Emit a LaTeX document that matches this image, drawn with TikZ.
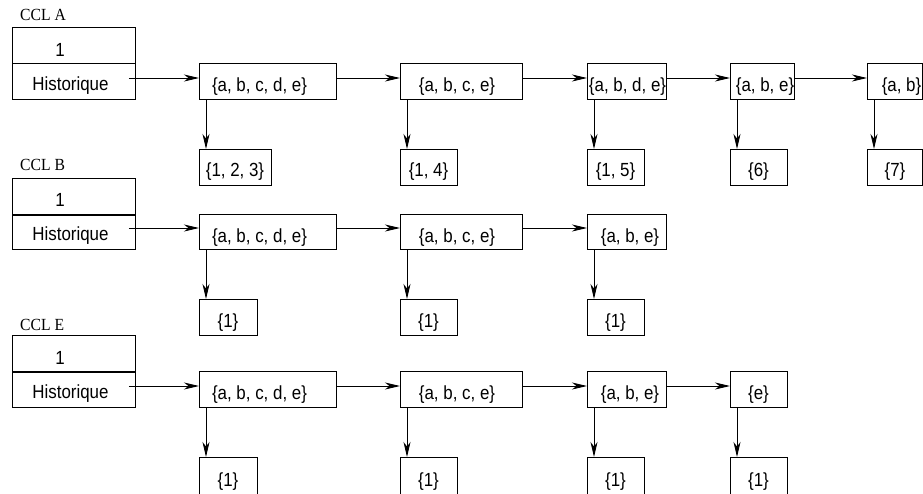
\documentclass[tikz,border=0pt]{standalone}
\usepackage{fontspec}
\setmainfont{Liberation Sans}[FakeStretch=0.89]
\newfontfamily\cclfont{Liberation Serif}[FakeStretch=0.92]
\usetikzlibrary{arrows.meta,calc}
\begin{document}
\begin{tikzpicture}[x=1pt,y=-1pt,
  cell/.style={draw, line width=0.9pt, inner sep=0pt, anchor=north west},
  txt/.style={inner sep=0pt, font=\fontsize{19}{22}\selectfont},
  ccl/.style={inner sep=0pt, anchor=west, font=\cclfont\fontsize{17}{19}\selectfont},
  divider/.style={line width=2.2pt},
  arr/.style={line width=0.9pt, -{Stealth[length=15pt,width=7pt,inset=4.5pt]}}]
\useasboundingbox (0,0) rectangle (923,493);

% ---------------- Row A ----------------
\node[ccl] (lA) at (20,15) {CCL A};
\node[cell, minimum width=123pt, minimum height=36pt] (nA) at (12,27) {};
\node[cell, minimum width=123pt, minimum height=36pt] (hA) at (12,63) {};
\node[txt] (tnA) at (60,50) {1};
\node[txt] (thA) at (70.5,86) {Historique};

\node[cell, minimum width=137pt, minimum height=36pt] (a1) at (199,63) {};
\node[cell, minimum width=122pt, minimum height=36pt] (a2) at (400,63) {};
\node[cell, minimum width=79pt,  minimum height=36pt] (a3) at (587,63) {};
\node[cell, minimum width=64pt,  minimum height=36pt] (a4) at (730,63) {};
\node[cell, minimum width=55pt,  minimum height=36pt] (a5) at (867,63) {};
\node[txt] (ta1) at (259.5,87) {\{a, b, c, d, e\}};
\node[txt] (ta2) at (457,87) {\{a, b, c, e\}};
\node[txt] (ta3) at (627.5,87) {\{a, b, d, e\}};
\node[txt] (ta4) at (765,87) {\{a, b, e\}};
\node[txt] (ta5) at (901.5,87) {\{a, b\}};

\node[cell, minimum width=72pt, minimum height=36pt] (b1) at (199,149) {};
\node[cell, minimum width=57pt, minimum height=36pt] (b2) at (400,149) {};
\node[cell, minimum width=57pt, minimum height=36pt] (b3) at (587,149) {};
\node[cell, minimum width=57pt, minimum height=36pt] (b4) at (730,149) {};
\node[cell, minimum width=55pt, minimum height=36pt] (b5) at (867,149) {};
\node[txt] (tb1) at (235,172) {\{1, 2, 3\}};
\node[txt] (tb2) at (428.5,172) {\{1, 4\}};
\node[txt] (tb3) at (615.5,172) {\{1, 5\}};
\node[txt] (tb4) at (758.5,172) {\{6\}};
\node[txt] (tb5) at (895,172) {\{7\}};

\draw[arr] ($(hA.north east)+(-7,15)$) -- ($(a1.north west)+(0,15)$);
\draw[arr] ($(a1.north east)+(0,15)$) -- ($(a2.north west)+(0,15)$);
\draw[arr] ($(a2.north east)+(0,15)$) -- ($(a3.north west)+(0,15)$);
\draw[arr] ($(a3.north east)+(0,15)$) -- ($(a4.north west)+(0,15)$);
\draw[arr] ($(a4.north east)+(0,15)$) -- ($(a5.north west)+(0,15)$);
\foreach \i in {1,...,5}{
  \draw[arr] ($(a\i.south west)+(7,0)$) -- ($(b\i.north west)+(7,0)$);
}

% ---------------- Row B ----------------
\node[ccl] (lB) at (20,165) {CCL B};
\node[cell, minimum width=123pt, minimum height=36pt] (nB) at (12,178) {};
\node[cell, minimum width=123pt, minimum height=35pt] (hB) at (12,214) {};
\draw[divider] (nB.south west) -- (nB.south east);
\node[txt] (tnB) at (60,200) {1};
\node[txt] (thB) at (70.5,236) {Historique};

\node[cell, minimum width=137pt, minimum height=35pt] (c1) at (199,214) {};
\node[cell, minimum width=122pt, minimum height=35pt] (c2) at (400,214) {};
\node[cell, minimum width=79pt,  minimum height=35pt] (c3) at (587,214) {};
\node[txt] (tc1) at (259.5,237.5) {\{a, b, c, d, e\}};
\node[txt] (tc2) at (457,237.5) {\{a, b, c, e\}};
\node[txt] (tc3) at (630,237.5) {\{a, b, e\}};

\node[cell, minimum width=58pt, minimum height=36pt] (d1) at (199,299) {};
\node[cell, minimum width=57pt, minimum height=36pt] (d2) at (400,299) {};
\node[cell, minimum width=57pt, minimum height=36pt] (d3) at (587,299) {};
\node[txt] (td1) at (228,323) {\{1\}};
\node[txt] (td2) at (428.5,323) {\{1\}};
\node[txt] (td3) at (615.5,323) {\{1\}};

\draw[arr] ($(hB.north east)+(-7,14)$) -- ($(c1.north west)+(0,14)$);
\draw[arr] ($(c1.north east)+(0,14)$) -- ($(c2.north west)+(0,14)$);
\draw[arr] ($(c2.north east)+(0,14)$) -- ($(c3.north west)+(0,14)$);
\foreach \i in {1,2,3}{
  \draw[arr] ($(c\i.south west)+(7,0)$) -- ($(d\i.north west)+(7,0)$);
}

% ---------------- Row E ----------------
\node[ccl] (lE) at (20,325) {CCL E};
\node[cell, minimum width=123pt, minimum height=36pt] (nE) at (12,335) {};
\node[cell, minimum width=123pt, minimum height=36pt] (hE) at (12,371) {};
\draw[divider] (nE.south west) -- (nE.south east);
\node[txt] (tnE) at (60,358) {1};
\node[txt] (thE) at (70.5,394) {Historique};

\node[cell, minimum width=137pt, minimum height=36pt] (e1) at (199,371) {};
\node[cell, minimum width=122pt, minimum height=36pt] (e2) at (400,371) {};
\node[cell, minimum width=79pt,  minimum height=36pt] (e3) at (587,371) {};
\node[cell, minimum width=57pt,  minimum height=36pt] (e4) at (730,371) {};
\node[txt] (te1) at (259.5,395) {\{a, b, c, d, e\}};
\node[txt] (te2) at (457,395) {\{a, b, c, e\}};
\node[txt] (te3) at (630,395) {\{a, b, e\}};
\node[txt] (te4) at (758.5,395) {\{e\}};

\node[cell, minimum width=58pt, minimum height=38pt] (f1) at (199,457) {};
\node[cell, minimum width=57pt, minimum height=38pt] (f2) at (400,457) {};
\node[cell, minimum width=57pt, minimum height=38pt] (f3) at (587,457) {};
\node[cell, minimum width=57pt, minimum height=38pt] (f4) at (730,457) {};
\node[txt] (tf1) at (228,482) {\{1\}};
\node[txt] (tf2) at (428.5,482) {\{1\}};
\node[txt] (tf3) at (615.5,482) {\{1\}};
\node[txt] (tf4) at (758.5,482) {\{1\}};

\draw[arr] ($(hE.north east)+(-7,15)$) -- ($(e1.north west)+(0,15)$);
\draw[arr] ($(e1.north east)+(0,15)$) -- ($(e2.north west)+(0,15)$);
\draw[arr] ($(e2.north east)+(0,15)$) -- ($(e3.north west)+(0,15)$);
\draw[arr] ($(e3.north east)+(0,15)$) -- ($(e4.north west)+(0,15)$);
\foreach \i in {1,...,4}{
  \draw[arr] ($(e\i.south west)+(7,0)$) -- ($(f\i.north west)+(7,0)$);
}
\end{tikzpicture}
\end{document}
